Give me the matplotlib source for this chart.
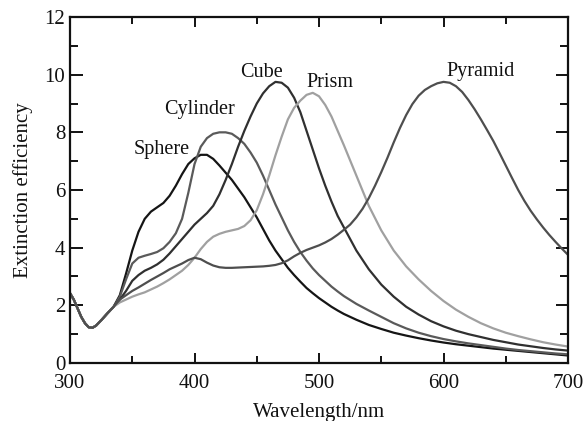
import matplotlib
matplotlib.use("Agg")
import matplotlib.pyplot as plt
from matplotlib.ticker import MultipleLocator

plt.rcParams['font.family'] = ['Liberation Serif', 'DejaVu Serif']

# Shared short-wavelength part (all shapes overlap here)
common_wl = [300, 303, 306, 309, 312, 315, 318, 321, 325, 330, 335]
common_val = [2.42, 2.20, 1.90, 1.60, 1.38, 1.24, 1.22, 1.30, 1.48, 1.72, 1.95]

# Wavelength grid for the separated part of the spectra
wl_fine = list(range(340, 521, 5))
wl_coarse = list(range(530, 701, 10))
wl = wl_fine + wl_coarse
# the pyramid has its broad peak in the red, so it is sampled at 5 nm throughout
wl_pyramid = list(range(340, 701, 5))

sphere = [2.35, 3.10, 3.90, 4.55, 5.00, 5.25, 5.40, 5.55, 5.80, 6.15, 6.55, 6.90,
          7.10, 7.22, 7.22, 7.08, 6.85, 6.60, 6.35, 6.05, 5.75, 5.40, 5.05, 4.65,
          4.25, 3.90, 3.60, 3.30, 3.05, 2.82, 2.60, 2.42, 2.25, 2.10, 1.95, 1.82,
          1.70,
          1.50, 1.32, 1.18, 1.05, 0.95, 0.86, 0.78, 0.71, 0.65, 0.60, 0.55, 0.50,
          0.46, 0.42, 0.38, 0.34, 0.30, 0.26]

cylinder = [2.30, 2.90, 3.45, 3.65, 3.72, 3.78, 3.85, 3.98, 4.20, 4.50, 5.00, 5.90,
            6.90, 7.50, 7.80, 7.95, 8.00, 8.00, 7.95, 7.80, 7.60, 7.30, 6.95, 6.50,
            6.00, 5.50, 5.05, 4.60, 4.20, 3.85, 3.55, 3.28, 3.05, 2.85, 2.65, 2.48,
            2.32,
            2.05, 1.82, 1.60, 1.38, 1.20, 1.05, 0.93, 0.83, 0.75, 0.68, 0.62, 0.56,
            0.50, 0.45, 0.41, 0.37, 0.33, 0.30]

cube = [2.20, 2.50, 2.85, 3.05, 3.20, 3.30, 3.42, 3.58, 3.80, 4.05, 4.30, 4.55,
        4.80, 5.00, 5.20, 5.45, 5.85, 6.35, 6.90, 7.50, 8.05, 8.55, 9.00, 9.35,
        9.60, 9.75, 9.72, 9.55, 9.20, 8.70, 8.05, 7.40, 6.75, 6.15, 5.60, 5.10,
        4.70,
        3.90, 3.25, 2.72, 2.30, 1.95, 1.68, 1.45, 1.27, 1.12, 1.00, 0.90, 0.80,
        0.72, 0.64, 0.58, 0.52, 0.47, 0.43]

prism = [2.10, 2.20, 2.30, 2.38, 2.45, 2.55, 2.65, 2.77, 2.90, 3.05, 3.20, 3.40,
         3.65, 3.95, 4.20, 4.38, 4.48, 4.55, 4.60, 4.65, 4.75, 4.95, 5.30, 5.85,
         6.50, 7.20, 7.85, 8.45, 8.85, 9.10, 9.30, 9.37, 9.25, 8.95, 8.55, 8.05,
         7.55,
         6.50, 5.45, 4.60, 3.90, 3.35, 2.90, 2.50, 2.15, 1.85, 1.60, 1.38, 1.20,
         1.05, 0.93, 0.82, 0.72, 0.64, 0.57]

pyramid = [2.20, 2.35, 2.50, 2.62, 2.75, 2.88, 3.00, 3.12, 3.25, 3.35, 3.45, 3.57,
           3.65, 3.60, 3.48, 3.38, 3.32, 3.30, 3.30, 3.31, 3.32, 3.33, 3.34, 3.35,
           3.37, 3.40, 3.46, 3.56, 3.70, 3.82, 3.92, 4.00, 4.08, 4.18, 4.30, 4.45,
           4.62, 4.80, 5.05, 5.35, 5.72, 6.15, 6.62, 7.12, 7.65, 8.15, 8.60, 8.98,
           9.27, 9.47, 9.60, 9.70, 9.75, 9.72, 9.60, 9.40, 9.12, 8.80, 8.45, 8.08,
           7.70, 7.28, 6.85, 6.42, 6.00, 5.62, 5.28, 4.98, 4.70, 4.44, 4.20, 3.97,
           3.75]

names = ["Sphere", "Cylinder", "Cube", "Prism", "Pyramid"]
grids = [wl, wl, wl, wl, wl_pyramid]
values = [sphere, cylinder, cube, prism, pyramid]
colors = ["#151515", "#5a5a5a", "#303030", "#a0a0a0", "#4e4e4e"]

# label anchor points (wavelength, efficiency)
label_x = [374, 404, 454, 509, 630]
label_y = [7.40, 8.80, 10.08, 9.74, 10.12]

fig = plt.figure(figsize=(5.86, 4.21), dpi=100)
ax = fig.add_axes([0.1195, 0.1378, 0.8498, 0.8218])

for name, grid, val, color, lx, ly in zip(names, grids, values, colors,
                                          label_x, label_y):
    ax.plot(common_wl + grid, common_val + val, color=color, lw=1.6,
            solid_capstyle='round', solid_joinstyle='round')
    ax.text(lx, ly, name, fontsize=14.5, ha='center', va='center', color='#111111')

ax.set_xlim(300, 700)
ax.set_ylim(0, 12)
ax.xaxis.set_major_locator(MultipleLocator(100))
ax.xaxis.set_minor_locator(MultipleLocator(50))
ax.yaxis.set_major_locator(MultipleLocator(2))
ax.yaxis.set_minor_locator(MultipleLocator(1))

ax.tick_params(axis='both', which='both', direction='in', top=True, right=True,
               width=1.4, labelsize=15, colors='#111111')
ax.tick_params(axis='y', which='major', length=9)
ax.tick_params(axis='y', which='minor', length=6)
ax.tick_params(axis='x', which='major', length=7, pad=8)
ax.tick_params(axis='x', which='minor', length=5)

for sp in ax.spines.values():
    sp.set_linewidth(1.6)
    sp.set_color('#111111')

ax.set_xlabel("Wavelength/nm", fontsize=15, labelpad=7, color='#111111')
ax.set_ylabel("Extinction efficiency", fontsize=15, labelpad=8, color='#111111')

fig.savefig("out.png", dpi=100)
